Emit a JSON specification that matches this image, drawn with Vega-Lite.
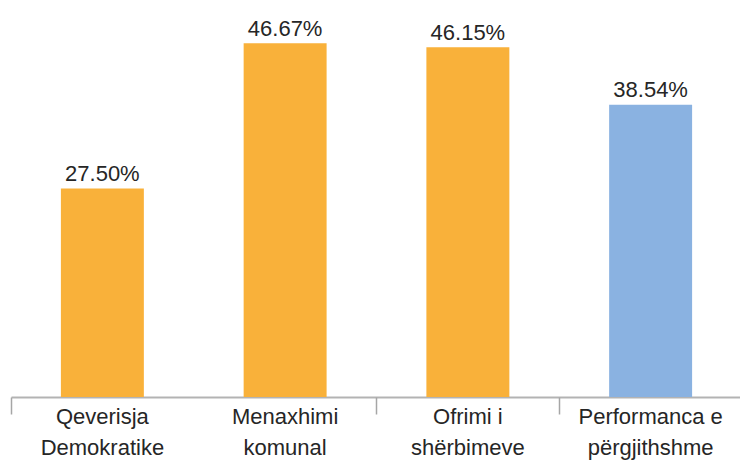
{
  "$schema": "https://vega.github.io/schema/vega-lite/v6.json",
  "width": 731,
  "height": 379,
  "autosize": {"type": "none"},
  "padding": {"left": 11, "top": 18, "right": 0, "bottom": 63},
  "background": "white",
  "config": {"view": {"stroke": null}, "font": "Liberation Sans"},
  "data": {
    "values": [
      {"cat": "Qeverisja Demokratike", "value": 27.50, "label": "27.50%", "group": "a"},
      {"cat": "Menaxhimi komunal", "value": 46.67, "label": "46.67%", "group": "a"},
      {"cat": "Ofrimi i shërbimeve", "value": 46.15, "label": "46.15%", "group": "a"},
      {"cat": "Performanca e përgjithshme", "value": 38.54, "label": "38.54%", "group": "b"}
    ]
  },
  "resolve": {"axis": {"x": "independent"}},
  "layer": [
    {
      "mark": {"type": "bar"},
      "encoding": {
        "x": {
          "field": "cat",
          "type": "nominal",
          "sort": null,
          "scale": {"paddingInner": 0.546, "paddingOuter": 0.273},
          "axis": {
            "orient": "bottom",
            "title": null,
            "labelAngle": 0,
            "labelExpr": "datum.value == 'Qeverisja Demokratike' ? ['Qeverisja','Demokratike'] : datum.value == 'Menaxhimi komunal' ? ['Menaxhimi','komunal'] : datum.value == 'Ofrimi i shërbimeve' ? ['Ofrimi i','shërbimeve'] : ['Performanca e','përgjithshme']",
            "labelFontSize": 22,
            "labelLineHeight": 31,
            "labelColor": "#262626",
            "labelFont": "Liberation Sans",
            "labelPadding": 9,
            "labelBaseline": "top",
            "ticks": false,
            "domainColor": "#B3B3B3",
            "domainWidth": 2,
            "grid": false
          }
        },
        "y": {
          "field": "value",
          "type": "quantitative",
          "scale": {"domain": [0, 50], "nice": false},
          "axis": null
        },
        "color": {
          "field": "group",
          "type": "nominal",
          "scale": {"domain": ["a", "b"], "range": ["#F9B13A", "#8AB2E1"]},
          "legend": null
        }
      }
    },
    {
      "mark": {"type": "text", "baseline": "alphabetic", "dy": -7.5, "fontSize": 22, "color": "#262626", "font": "Liberation Sans"},
      "encoding": {
        "x": {
          "field": "cat",
          "type": "nominal",
          "sort": null,
          "axis": {
            "orient": "bottom",
            "title": null,
            "labels": false,
            "domain": false,
            "tickOffset": -91.4,
            "tickSize": 17,
            "tickWidth": 1.5,
            "tickColor": {"condition": {"test": "datum.value === 'Menaxhimi komunal'", "value": "transparent"}, "value": "#A6A6A6"},
            "grid": false
          }
        },
        "y": {"field": "value", "type": "quantitative"},
        "text": {"field": "label"}
      }
    }
  ]
}
